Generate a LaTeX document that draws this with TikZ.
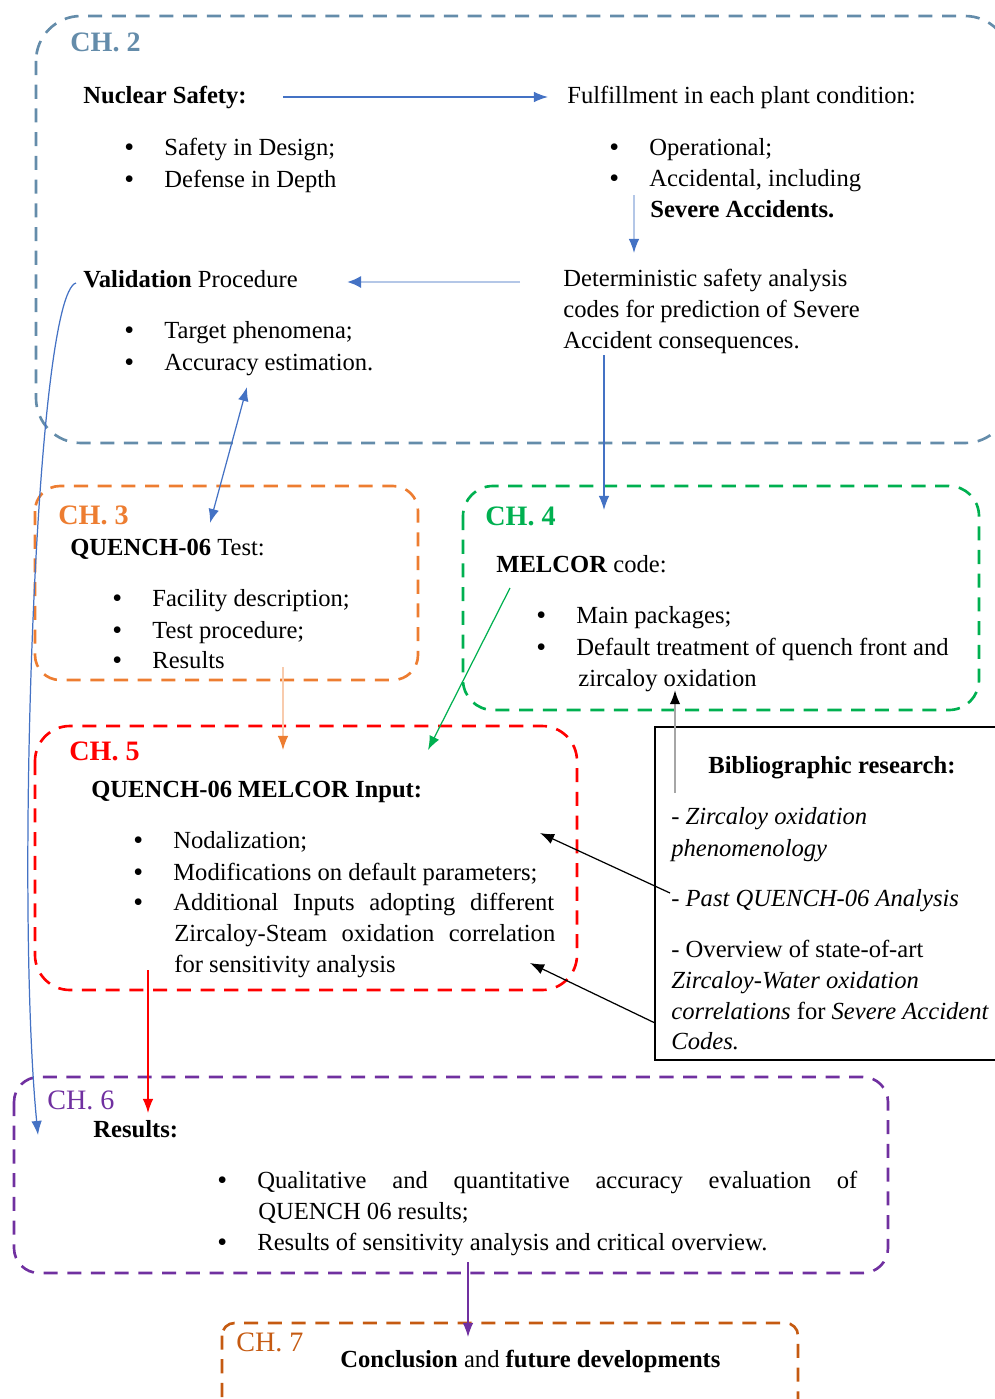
\documentclass[tikz,border=0pt]{standalone}
\usepackage{fontspec}
\setmainfont{Liberation Serif}
\usepackage{xcolor}
\usepackage{tikz}
\usetikzlibrary{calc}
\usetikzlibrary{arrows}
\usetikzlibrary{arrows.meta}
\usetikzlibrary{positioning}
\definecolor{chtwo}{RGB}{100,140,170}
\definecolor{chthree}{RGB}{237,125,49}
\definecolor{chfour}{RGB}{0,176,80}
\definecolor{chfive}{RGB}{255,0,0}
\definecolor{chsix}{RGB}{112,48,160}
\definecolor{chseven}{RGB}{197,90,17}
\definecolor{arblue}{RGB}{68,114,196}
\definecolor{lightblue}{RGB}{180,199,231}
\definecolor{lightorange}{RGB}{248,203,173}
\tikzset{>=latex}
\tikzstyle{txt} = [anchor=base west, inner sep=0, font=\fontsize{14}{17}\selectfont]
\tikzstyle{chlab} = [anchor=base west, inner sep=0, font=\fontsize{16}{19}\selectfont\bfseries]
\tikzstyle{chbox} = [line width=1.5pt, dash pattern=on 8pt off 5.5pt]
\tikzstyle{arr} = [-{Latex[length=8pt,width=6pt]}, line width=0.7pt]
\newcommand{\bl}{\makebox[0.8cm][l]{\raisebox{-0.6pt}[0pt][0pt]{\fontsize{16}{17}\selectfont\textbullet}}}

\begin{document}
\begin{tikzpicture}[x=0.02cm, y=-0.02cm]
\useasboundingbox (0,0) rectangle (994,1399);
\draw [chbox, draw=chtwo, rounded corners=0.9cm] (36,16) rectangle (1010,443);
\draw [chbox, draw=chthree, rounded corners=0.5cm] (35,486) rectangle (418,680);
\draw [chbox, draw=chfour, rounded corners=0.6cm] (463,486) rectangle (979,710);
\draw [chbox, draw=chfive, rounded corners=0.7cm] (35,726) rectangle (577,990);
\draw [line width=1.6pt, draw=black] (655,727) rectangle (1010,1060);
\draw [chbox, draw=chsix, rounded corners=0.5cm] (14,1077) rectangle (888,1273);
\draw [chbox, draw=chseven, rounded corners=0.25cm] (222,1323) rectangle (798,1420);

\node [chlab, text=chtwo] (c2) at (70,52) {CH. 2};
\node [txt] (ns) at (83,104) {\textbf{Nuclear Safety:}};
\node [txt] (sd) at (124,155) {\bl Safety in Design;};
\node [txt] (dd) at (124,187) {\bl Defense in Depth};
\node [txt] (ff) at (567,104) {Fulfillment in each plant condition:};
\node [txt] (op) at (609,155) {\bl Operational;};
\node [txt] (ac) at (609,186) {\bl Accidental, including};
\node [txt] (sa) at (650,217) {\textbf{Severe Accidents.}};
\node [txt] (ds1) at (563,286) {Deterministic safety analysis};
\node [txt] (ds2) at (563,317) {codes for prediction of Severe};
\node [txt] (ds3) at (563,348) {Accident consequences.};
\node [txt] (vp) at (83,287) {\textbf{Validation} Procedure};
\node [txt] (tp) at (124,338) {\bl Target phenomena;};
\node [txt] (ae) at (124,370) {\bl Accuracy estimation.};

\node [chlab, text=chthree] (c3) at (58,524) {CH. 3};
\node [txt] (qt) at (70,555) {\textbf{QUENCH-06} Test:};
\node [txt] (fd) at (112,606) {\bl Facility description;};
\node [txt] (tpr) at (112,638) {\bl Test procedure;};
\node [txt] (res) at (112,668) {\bl Results};

\node [chlab, text=chfour] (c4) at (485,525) {CH. 4};
\node [txt] (mc) at (496,572) {\textbf{MELCOR} code:};
\node [txt] (mp) at (536,623) {\bl Main packages;};
\node [txt] (dt) at (536,655) {\bl Default treatment of quench front and};
\node [txt] (zo) at (578,686) {zircaloy oxidation};

\node [chlab, text=chfive] (c5) at (69,760) {CH. 5};
\node [txt] (mi) at (91,797) {\textbf{QUENCH-06 MELCOR Input:}};
\node [txt] (nz) at (133,848) {\bl Nodalization;};
\node [txt] (md) at (133,880) {\bl Modifications on default parameters;};
\node [txt] (ai) at (133,910) {\bl\makebox[7.62cm][s]{Additional Inputs adopting different}};
\node [txt] (zs) at (174,941) {\makebox[7.62cm][s]{Zircaloy-Steam oxidation correlation}};
\node [txt] (fs) at (174,972) {for sensitivity analysis};

\node [txt] (br) at (708,773) {\textbf{Bibliographic research:}};
\node [txt] (b1) at (671,824) {- \textit{Zircaloy oxidation}};
\node [txt] (b2) at (671,856) {\textit{phenomenology}};
\node [txt] (b3) at (671,906) {- \textit{Past QUENCH-06 Analysis}};
\node [txt] (b4) at (671,957) {- Overview of state-of-art};
\node [txt] (b5) at (671,988) {\textit{Zircaloy-Water oxidation}};
\node [txt] (b6) at (671,1019) {\textit{correlations} for \textit{Severe Accident}};
\node [txt] (b7) at (671,1049) {\textit{Codes.}};

\node [chlab, font=\fontsize{16}{19}\selectfont, text=chsix] (c6) at (47,1109) {CH. 6};
\node [txt] (rs) at (93,1137) {\textbf{Results:}};
\node [txt] (qa) at (217,1188) {\bl\makebox[12cm][s]{Qualitative and quantitative accuracy evaluation of}};
\node [txt] (qr) at (258,1219) {QUENCH 06 results;};
\node [txt] (rsa) at (217,1250) {\bl Results of sensitivity analysis and critical overview.};

\node [chlab, font=\fontsize{16}{19}\selectfont, text=chseven] (c7) at (236,1351) {CH. 7};
\node [txt] (cf) at (340,1367) {\textbf{Conclusion} and \textbf{future developments}};

\coordinate (a1s) at (283,97);
\coordinate (a1e) at (548,97);
\coordinate (a2s) at (634,195);
\coordinate (a2e) at (634,253);
\coordinate (a3s) at (520,282);
\coordinate (a3e) at (347,282);
\coordinate (a4s) at (247,387);
\coordinate (a4e) at (210,523);
\coordinate (a5s) at (76,283);
\coordinate (a5e) at (38,1135);
\coordinate (a6s) at (604,355);
\coordinate (a6e) at (604,510);
\coordinate (a7s) at (283,667);
\coordinate (a7e) at (283,750);
\coordinate (a8s) at (510,588);
\coordinate (a8e) at (428,750);
\coordinate (a9s) at (675,793);
\coordinate (a9e) at (675,690);
\coordinate (a10s) at (670,893);
\coordinate (a10e) at (540,833);
\coordinate (a11s) at (655,1023);
\coordinate (a11e) at (530,963);
\coordinate (a12s) at (148,970);
\coordinate (a12e) at (148,1113);
\coordinate (a13s) at (468,1262);
\coordinate (a13e) at (468,1337);

\draw [arr, draw=arblue] (a1s) to (a1e);
\draw [arr, draw=lightblue, -{Latex[length=8pt,width=6pt,color=arblue]}] (a2s) to (a2e);
\draw [arr, line width=1.4pt, draw=lightblue, -{Latex[length=8pt,width=7pt,color=arblue]}] (a3s) to (a3e);
\draw [arr, draw=arblue, {Latex[length=8pt,width=6pt]}-{Latex[length=8pt,width=6pt]}] (a4s) to (a4e);
\draw [arr, draw=arblue] (a5s) .. controls (35,295) and (15,900) .. (a5e);
\draw [arr, draw=arblue] (a6s) to (a6e);
\draw [arr, draw=lightorange, -{Latex[length=8pt,width=6pt,color=chthree]}] (a7s) to (a7e);
\draw [arr, draw=chfour] (a8s) to (a8e);
\draw [arr, line width=1.2pt, draw=gray!70, -{Latex[length=8pt,width=6pt,color=black]}] (a9s) to (a9e);
\draw [arr, draw=black] (a10s) to (a10e);
\draw [arr, draw=black] (a11s) to (a11e);
\draw [arr, draw=chfive] (a12s) to (a12e);
\draw [arr, draw=chsix] (a13s) to (a13e);
\end{tikzpicture}
\end{document}
